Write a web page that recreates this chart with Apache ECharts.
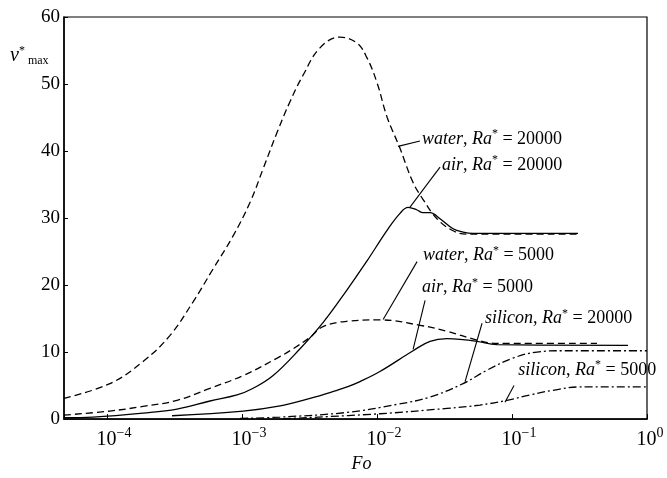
<!DOCTYPE html>
<html><head><meta charset="utf-8">
<script src="https://cdn.jsdelivr.net/npm/echarts@6/dist/echarts.min.js"></script>
<style>html,body{margin:0;padding:0;background:#fff}#c{width:667px;height:478px}</style>
</head><body><div id="c"></div>
<script>
// ---- data (Fo on log axis, v*max) ----
const foWater20000 = [4.8e-5, 1.05e-4, 1.85e-4, 2.93e-4, 4.34e-4, 6.10e-4, 8.57e-4, 1.15e-3, 1.43e-3, 1.82e-3, 2.27e-3, 2.83e-3, 3.78e-3, 5.32e-3, 7.11e-3, 8.43e-3, 1.0e-2, 1.19e-2, 1.46e-2, 1.85e-2, 2.19e-2, 2.78e-2, 3.66e-2, 4.65e-2, 0.308];
const vWater20000  = [3.1, 5.3, 8.6, 12.5, 17.5, 22.4, 27.3, 32.4, 37.3, 42.8, 47.4, 51.3, 55.4, 57.0, 56.1, 53.9, 50.2, 45.0, 40.7, 35.3, 32.8, 29.9, 28.1, 27.6, 27.6];

const foAir20000 = [4.8e-5, 7.87e-5, 1.85e-4, 3.30e-4, 5.79e-4, 9.18e-4, 1.21e-3, 1.70e-3, 2.69e-3, 3.98e-3, 6.00e-3, 8.43e-3, 1.19e-2, 1.48e-2, 1.70e-2, 1.98e-2, 2.19e-2, 2.47e-2, 2.93e-2, 3.66e-2, 4.34e-2, 5.14e-2, 0.308];
const vAir20000  = [0.2, 0.3, 0.9, 1.5, 2.7, 3.6, 4.6, 6.5, 10.5, 14.4, 19.3, 23.6, 28.2, 30.7, 31.6, 31.2, 30.8, 30.8, 29.9, 28.4, 27.9, 27.7, 27.7];

const foWater5000 = [4.8e-5, 1.05e-4, 1.85e-4, 3.30e-4, 5.79e-4, 1.02e-3, 1.82e-3, 2.39e-3, 3.19e-3, 3.98e-3, 6.00e-3, 1.05e-2, 2.08e-2, 3.30e-2, 5.50e-2, 7.74e-2, 0.426];
const vWater5000  = [0.6, 1.2, 1.9, 2.8, 4.6, 6.5, 9.1, 10.5, 12.2, 13.8, 14.6, 14.8, 14.0, 13.1, 11.8, 11.3, 11.3];

const foAir5000 = [3.03e-4, 1.02e-3, 1.82e-3, 3.19e-3, 5.06e-3, 6.00e-3, 7.48e-3, 1.05e-2, 1.85e-2, 2.47e-2, 3.30e-2, 4.12e-2, 5.50e-2, 7.74e-2, 0.723];
const vAir5000  = [0.5, 1.2, 1.9, 3.1, 4.3, 4.8, 5.6, 7.1, 10.2, 11.6, 12.0, 11.9, 11.6, 11.1, 11.0];

const foSilicon20000 = [9.7e-4, 1.91e-3, 6.0e-3, 1.41e-2, 2.47e-2, 4.34e-2, 6.53e-2, 0.1017, 0.153, 0.239, 1.0];
const vSilicon20000  = [0.1, 0.3, 1.0, 2.2, 3.3, 5.3, 7.3, 9.1, 10.0, 10.2, 10.2];

const foSilicon5000 = [2.01e-3, 1.05e-2, 3.30e-2, 5.79e-2, 9.18e-2, 0.136, 0.201, 0.319, 1.0];
const vSilicon5000  = [0.05, 0.8, 1.6, 2.1, 2.8, 3.6, 4.3, 4.8, 4.8];

const yTicks = [0, 10, 20, 30, 40, 50, 60];

// annotations: fluid, Ra*, text anchor (left, middle) and leader line ends
const annFluid  = ['water', 'air', 'water', 'air', 'silicon', 'silicon'];
const annRa     = ['20000', '20000', '5000', '5000', '20000', '5000'];
const annTextFo = [2.15e-2, 3.03e-2, 2.19e-2, 2.15e-2, 6.31e-2, 0.111];
const annTextV  = [41.8, 37.9, 24.4, 19.6, 15.0, 7.3];
const annFromFo = [2.08e-2, 2.93e-2, 1.98e-2, 2.27e-2, 6.0e-2, 0.1035];
const annFromV  = [41.5, 37.6, 23.5, 17.7, 14.3, 5.0];
const annToFo   = [1.43e-2, 1.75e-2, 1.11e-2, 1.85e-2, 4.49e-2, 8.87e-2];
const annToV    = [40.7, 31.6, 14.85, 10.4, 5.6, 2.5];

// ---- chart ----
const SERIF = '"Liberation Serif", "DejaVu Serif", serif';
const zip = (a, b) => a.map((x, i) => [x, b[i]]);
const curve = (name, fo, v, type) => ({
  name, type: 'line', data: zip(fo, v), showSymbol: false, smooth: 0.4,
  lineStyle: { color: '#000', width: 1.3, type }, silent: true, z: 3
});
const DASH = [7, 4];
const DASHDOT = [8, 3, 2, 3];

const series = [
  curve('water, Ra*=20000', foWater20000, vWater20000, DASH),
  curve('air, Ra*=20000', foAir20000, vAir20000, 'solid'),
  curve('water, Ra*=5000', foWater5000, vWater5000, DASH),
  curve('air, Ra*=5000', foAir5000, vAir5000, 'solid'),
  curve('silicon, Ra*=20000', foSilicon20000, vSilicon20000, DASHDOT),
  curve('silicon, Ra*=5000', foSilicon5000, vSilicon5000, DASHDOT)
];
annFluid.forEach((f, i) => {
  series.push({
    type: 'line', data: [[annFromFo[i], annFromV[i]], [annToFo[i], annToV[i]]],
    showSymbol: false, silent: true, lineStyle: { color: '#000', width: 1.1 }, z: 4
  });
});

const chart = echarts.init(document.getElementById('c'), null, { renderer: 'canvas' });
const supExp = (e) => (e < 0 ? '\u2212' + (-e) : '' + e);
chart.setOption({
  animation: false,
  backgroundColor: '#fff',
  grid: { left: 64, right: 20, top: 17, bottom: 57, show: true, borderColor: '#000', borderWidth: 1.2 },
  xAxis: {
    type: 'log', logBase: 10, min: 4.8e-5, max: 1,
    name: 'Fo', nameLocation: 'middle', nameGap: 33,
    nameTextStyle: { fontFamily: SERIF, fontStyle: 'italic', fontSize: 18, color: '#000', padding: [0, 0, 0, 12] },
    axisLine: { lineStyle: { color: '#000', width: 1.5 } },
    axisTick: { inside: true, length: 5, lineStyle: { color: '#000' } },
    splitLine: { show: false },
    axisLabel: {
      margin: 7, color: '#000',
      formatter: (v) => {
        const e = Math.round(Math.log10(v));
        if (Math.abs(Math.log10(v) - e) > 1e-6) return '';
        return '{' + (e < 0 ? 'bn' : 'bz') + '|10}{e|' + supExp(e) + '}';
      },
      rich: {
        bn: { fontFamily: SERIF, fontSize: 20, lineHeight: 24, color: '#000', verticalAlign: 'bottom', padding: [0, 0, 0, 14] },
        bz: { fontFamily: SERIF, fontSize: 20, lineHeight: 24, color: '#000', verticalAlign: 'bottom', padding: [0, 0, 0, 6] },
        e: { fontFamily: SERIF, fontSize: 14, lineHeight: 14, color: '#000', verticalAlign: 'top' }
      }
    }
  },
  yAxis: {
    type: 'value', min: 0, max: 60, interval: 10,
    axisLine: { show: true, lineStyle: { color: '#000', width: 1.5 } },
    axisTick: { show: true, inside: true, length: 4, lineStyle: { color: '#000' } },
    splitLine: { show: false },
    axisLabel: {
      margin: 4, color: '#000', fontFamily: SERIF, fontSize: 19,
      formatter: (v) => (yTicks.indexOf(v) >= 0 ? '' + v : '')
    }
  },
  series
});

const annRich = {
  w: { fontFamily: SERIF, fontStyle: 'italic', fontSize: 18, fill: '#000', lineHeight: 22 },
  n: { fontFamily: SERIF, fontSize: 18, fill: '#000', lineHeight: 22 },
  s: { fontFamily: SERIF, fontSize: 12, fill: '#000', lineHeight: 12, verticalAlign: 'top' }
};
const graphics = annFluid.map((f, i) => {
  const p = chart.convertToPixel({ gridIndex: 0 }, [annTextFo[i], annTextV[i]]);
  return {
    type: 'text', x: p[0], y: p[1], silent: true, z: 10,
    style: {
      text: '{w|' + f + '}{n|, }{w|Ra}{s|*}{n| = ' + annRa[i] + '}',
      rich: annRich, align: 'left', verticalAlign: 'middle'
    }
  };
});
graphics.push({
  type: 'text', x: 10, y: 56, silent: true,
  style: {
    text: '{v|v}{s|*}{m| max}',
    rich: {
      v: { fontFamily: SERIF, fontStyle: 'italic', fontSize: 20, fill: '#000', lineHeight: 22 },
      s: { fontFamily: SERIF, fontSize: 12, fill: '#000', lineHeight: 12, verticalAlign: 'top' },
      m: { fontFamily: SERIF, fontSize: 12, fill: '#000', lineHeight: 12, verticalAlign: 'bottom' }
    },
    align: 'left', verticalAlign: 'middle'
  }
});
chart.setOption({ graphic: graphics });
</script>
</body></html>
